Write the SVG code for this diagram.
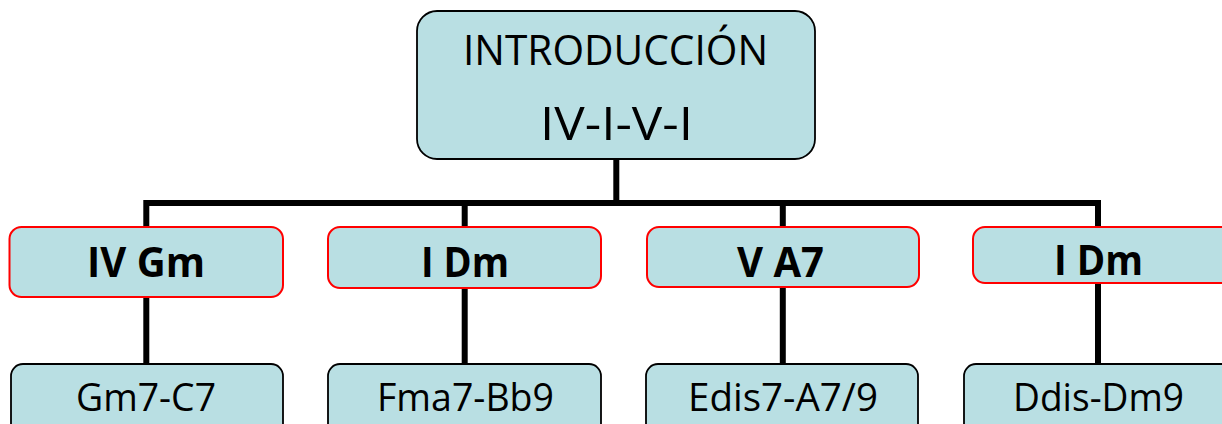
<svg xmlns="http://www.w3.org/2000/svg" width="1222" height="424" viewBox="0 0 1222 424">
  <style>
    .box { fill: #B9DFE3; }
    .red { stroke: #FF0000; stroke-width: 2; }
    .blk { stroke: #000000; stroke-width: 1.8; }
    .conn { fill: none; stroke: #000000; stroke-width: 6; stroke-linejoin: miter; }
    text { font-family: "Open Sans", "Liberation Sans", sans-serif; fill: #000000; text-anchor: middle; }
    .big { font-size: 42px; }
    .bigger { font-size: 46px; }
    .bold { font-size: 42px; font-weight: bold; }
    .small { font-size: 38px; }
  </style>
  <rect width="1222" height="424" fill="#FFFFFF"/>
  <g id="connectors">
    <path class="conn" d="M146.3,227 V203 H1098 V227"/>
    <path class="conn" d="M616.3,159 V203"/>
    <path class="conn" d="M464.7,203 V227"/>
    <path class="conn" d="M782.8,203 V227"/>
    <path class="conn" d="M146.3,297 V364"/>
    <path class="conn" d="M464.7,288 V364"/>
    <path class="conn" d="M782.8,287 V364"/>
    <path class="conn" d="M1098,283 V364"/>
  </g>
  <g id="intro">
    <rect class="box blk" x="417" y="11" width="398" height="148" rx="20"/>
    <text class="big" x="615.5" y="65" textLength="305" lengthAdjust="spacingAndGlyphs">INTRODUCCIÓN</text>
    <text class="bigger" x="616.5" y="140" textLength="153" lengthAdjust="spacingAndGlyphs">IV-I-V-I</text>
  </g>
  <g id="n-iv-gm">
    <rect class="box red" x="9.5" y="227" width="273.5" height="70" rx="12"/>
    <text class="bold" x="146" y="277" textLength="118" lengthAdjust="spacingAndGlyphs">IV Gm</text>
  </g>
  <g id="n-i-dm-1">
    <rect class="box red" x="328" y="227" width="273" height="61" rx="12"/>
    <text class="bold" x="465" y="277" textLength="88" lengthAdjust="spacingAndGlyphs">I Dm</text>
  </g>
  <g id="n-v-a7">
    <rect class="box red" x="647" y="227" width="272" height="60" rx="12"/>
    <text class="bold" x="780.5" y="277" textLength="87" lengthAdjust="spacingAndGlyphs">V A7</text>
  </g>
  <g id="n-i-dm-2">
    <rect class="box red" x="973" y="227" width="267" height="56" rx="12"/>
    <text class="bold" x="1098.5" y="275" textLength="89" lengthAdjust="spacingAndGlyphs">I Dm</text>
  </g>
  <g id="n-gm7-c7">
    <rect class="box blk" x="11" y="364" width="272" height="80" rx="12"/>
    <text class="small" x="146" y="411" textLength="140" lengthAdjust="spacingAndGlyphs">Gm7-C7</text>
  </g>
  <g id="n-fma7-bb9">
    <rect class="box blk" x="328" y="364" width="273" height="80" rx="12"/>
    <text class="small" x="465.5" y="411" textLength="177" lengthAdjust="spacingAndGlyphs">Fma7-Bb9</text>
  </g>
  <g id="n-edis7-a79">
    <rect class="box blk" x="646" y="364" width="272" height="80" rx="12"/>
    <text class="small" x="783" y="411" textLength="190" lengthAdjust="spacingAndGlyphs">Edis7-A7/9</text>
  </g>
  <g id="n-ddis-dm9">
    <rect class="box blk" x="964" y="364" width="276" height="80" rx="12"/>
    <text class="small" x="1098.5" y="411" textLength="171" lengthAdjust="spacingAndGlyphs">Ddis-Dm9</text>
  </g>
</svg>
